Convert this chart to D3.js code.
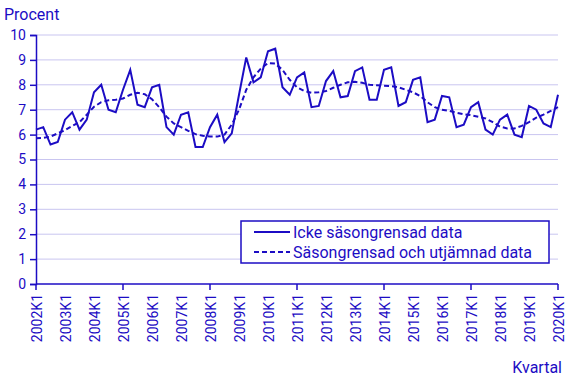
<!DOCTYPE html>
<html><head><meta charset="utf-8">
<script src="https://cdn.jsdelivr.net/npm/d3@7"></script>
<style>body{margin:0;background:#fff;}svg{display:block;font-family:Roboto, "Noto Sans", sans-serif;}</style>
</head><body><svg id="c" width="567" height="378"></svg>
<script>
const years = d3.range(2002, 2021);
const quarters = [];
years.forEach(y => { for (let q = 1; q <= 4; q++) { if (y === 2020 && q > 1) break; quarters.push(y + "K" + q); } });
const tickLabels = years.map(y => y + "K1");
const yTicks = d3.range(0, 11);
const unadjusted = [6.2,6.3,5.6,5.7,6.6,6.9,6.2,6.6,7.7,8.0,7.0,6.9,7.8,8.6,7.2,7.1,7.9,8.0,6.3,6.0,6.8,6.9,5.5,5.5,6.3,6.8,5.7,6.05,7.6,9.1,8.1,8.3,9.35,9.45,7.9,7.6,8.3,8.5,7.1,7.15,8.15,8.55,7.5,7.55,8.55,8.7,7.4,7.4,8.6,8.7,7.15,7.3,8.2,8.3,6.5,6.6,7.55,7.5,6.3,6.4,7.1,7.3,6.2,6.0,6.6,6.8,6.0,5.9,7.15,7.0,6.45,6.3,7.6];
const smoothed = [5.85,5.87,5.92,6.05,6.18,6.35,6.5,6.8,7.12,7.3,7.38,7.4,7.45,7.6,7.68,7.62,7.42,7.1,6.72,6.45,6.3,6.15,6.02,5.95,5.92,5.92,6.0,6.4,7.0,7.8,8.3,8.65,8.87,8.85,8.6,8.2,7.9,7.75,7.68,7.7,7.75,7.88,8.0,8.1,8.12,8.08,8.0,7.98,7.96,7.95,7.9,7.8,7.7,7.55,7.3,7.1,7.0,6.95,6.88,6.82,6.78,6.72,6.65,6.5,6.32,6.25,6.25,6.35,6.5,6.68,6.8,6.95,7.1];
const seriesNames = ["Icke säsongrensad data", "Säsongrensad och utjämnad data"];

const C = "#1c0cc4", G = "#c9c5f0";
const svg = d3.select("#c");
const L = 36, R = 558, T = 35, B = 284;
const x = d3.scalePoint().domain(quarters).range([L, R]);
const y = d3.scaleLinear().domain([0, 10]).range([B, T]);

// gridlines
svg.append("g").selectAll("line").data(yTicks.filter(d => d > 0)).join("line")
  .attr("x1", L).attr("x2", R).attr("y1", d => y(d)).attr("y2", d => y(d))
  .attr("stroke", G).attr("stroke-width", 1);

// y axis
const ya = svg.append("g").attr("transform", `translate(${L},0)`)
  .call(d3.axisLeft(y).tickValues(yTicks).tickSize(6).tickPadding(4).tickFormat(d3.format("d")));
ya.select(".domain").attr("stroke", C).attr("stroke-width", 1.5);
ya.selectAll(".tick line").attr("stroke", C).attr("stroke-width", 1.5);
ya.selectAll("text").attr("fill", C).style("font-size", "14px").style("font-family", "Roboto");

// x axis
const xa = svg.append("g").attr("transform", `translate(0,${B})`)
  .call(d3.axisBottom(x).tickValues(tickLabels).tickSize(0).tickPadding(0));
xa.select(".domain").attr("stroke", C).attr("stroke-width", 1.5).attr("d", `M${L},0H${R}`);
xa.selectAll(".tick line").remove();
xa.selectAll("text").attr("fill", C).style("font-size", "14px").style("font-family", "Roboto")
  .attr("text-anchor", "end").attr("transform", "rotate(-90)").attr("x", -10).attr("y", 0).attr("dy", "0.36em");
svg.append("g").selectAll("line").data(tickLabels.filter((d, i) => i % 3 === 0)).join("line")
  .attr("x1", d => x(d)).attr("x2", d => x(d)).attr("y1", B).attr("y2", B + 6)
  .attr("stroke", C).attr("stroke-width", 1.5);

// lines
const line = d3.line().x((d, i) => x(quarters[i])).y(d => y(d));
svg.append("path").datum(smoothed).attr("d", line).attr("fill", "none")
  .attr("stroke", C).attr("stroke-width", 2).attr("stroke-dasharray", "5,3");
svg.append("path").datum(unadjusted).attr("d", line).attr("fill", "none")
  .attr("stroke", C).attr("stroke-width", 2).attr("stroke-linejoin", "miter");

// labels
svg.append("text").attr("x", 4).attr("y", 20).attr("fill", C).style("font-size", "16px").text("Procent");
svg.append("text").attr("x", 562).attr("y", 373).attr("text-anchor", "end").attr("fill", C).style("font-size", "16px").text("Kvartal");

// legend
const lg = svg.append("g");
lg.append("rect").attr("x", 241).attr("y", 221).attr("width", 308).attr("height", 42)
  .attr("fill", "#fff").attr("stroke", C).attr("stroke-width", 1.5);
seriesNames.forEach((n, i) => {
  const yy = 232 + i * 20;
  lg.append("line").attr("x1", 254).attr("x2", 290).attr("y1", yy).attr("y2", yy)
    .attr("stroke", C).attr("stroke-width", 2).attr("stroke-dasharray", i ? "5,3" : null);
  lg.append("text").attr("x", 293).attr("y", yy).attr("dy", "0.35em").attr("fill", C)
    .style("font-size", "16px").text(n);
});
</script></body></html>
